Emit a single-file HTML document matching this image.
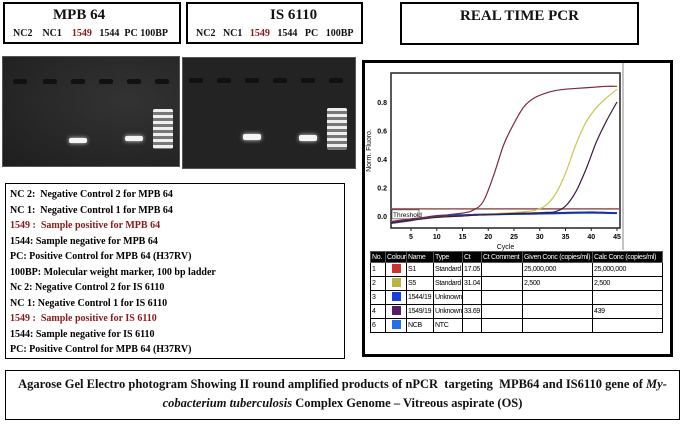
<!DOCTYPE html>
<html><head><meta charset="utf-8"><style>
body{margin:0;width:685px;height:424px;background:#fff;position:relative;overflow:hidden;font-family:"Liberation Serif",serif}
.box{position:absolute;border:2px solid #000;box-sizing:border-box;background:#fff}
.t{position:absolute;font-weight:bold;color:#111}
.red{color:#8b1a1a}
.gel{position:absolute;background:#232323;box-sizing:border-box;border:1px solid #555}
.well{position:absolute;width:14px;height:5px;background:#111;border-radius:2px}
.band{position:absolute;height:5px;background:#f4f4f4;border-radius:2px;box-shadow:0 0 4px #ddd}
.leg div{height:15.5px;font-size:10px;font-weight:bold;white-space:nowrap}
table{border-collapse:collapse;table-layout:fixed;font-family:"Liberation Sans",sans-serif;font-size:7px;letter-spacing:-0.3px;position:absolute;left:370px;top:251px;width:292px}
td,th{border:1px solid #000;padding:0 1px;height:13px;text-align:left;white-space:nowrap;overflow:hidden}
th{background:#000;color:#fff;height:10px;font-weight:normal;border-color:#555}
.sw{display:inline-block;width:9px;height:9px}
</style></head><body>
<div class="box" style="left:3px;top:2px;width:178px;height:42px">
 <div class="t" style="left:48px;top:3px;font-size:15px">MPB 64</div>
 <div class="t" style="left:8px;top:24px;font-size:10px">NC2 &nbsp;&nbsp;&nbsp;NC1 &nbsp;&nbsp;&nbsp;<span class="red">1549</span> &nbsp;&nbsp;1544 &nbsp;PC 100BP</div>
</div>
<div class="box" style="left:186px;top:2px;width:177px;height:42px">
 <div class="t" style="left:82px;top:3px;font-size:15px">IS 6110</div>
 <div class="t" style="left:8px;top:24px;font-size:10px">NC2 &nbsp;&nbsp;NC1 &nbsp;&nbsp;<span class="red">1549</span> &nbsp;&nbsp;1544 &nbsp;&nbsp;PC &nbsp;&nbsp;100BP</div>
</div>
<div class="box" style="left:400px;top:2px;width:239px;height:43px">
 <div class="t" style="left:0;width:100%;text-align:center;top:4px;font-size:15px">REAL TIME PCR</div>
</div>

<div class="gel" style="left:2px;top:56px;width:178px;height:111px;background:radial-gradient(ellipse at 70% 40%,#333,#1e1e1e)">
 <div class="well" style="left:10px;top:22px"></div><div class="well" style="left:40px;top:22px"></div><div class="well" style="left:68px;top:22px"></div><div class="well" style="left:96px;top:22px"></div><div class="well" style="left:124px;top:22px"></div><div class="well" style="left:152px;top:22px"></div>
 <div class="band" style="left:66px;top:81px;width:18px"></div>
 <div class="band" style="left:122px;top:79px;width:18px"></div>
 <div style="position:absolute;left:150px;top:52px;width:20px;height:40px;background:repeating-linear-gradient(#eee 0 3px,#777 3px 6px);border-radius:2px"></div>
</div>
<div class="gel" style="left:182px;top:57px;width:174px;height:112px">
 <div class="well" style="left:6px;top:20px"></div><div class="well" style="left:34px;top:20px"></div><div class="well" style="left:62px;top:20px"></div><div class="well" style="left:90px;top:20px"></div><div class="well" style="left:118px;top:20px"></div><div class="well" style="left:146px;top:20px"></div>
 <div class="band" style="left:60px;top:76px;width:18px;height:6px"></div>
 <div class="band" style="left:116px;top:77px;width:18px;height:6px"></div>
 <div style="position:absolute;left:144px;top:50px;width:20px;height:42px;background:repeating-linear-gradient(#eee 0 3px,#777 3px 6px);border-radius:2px"></div>
</div>

<div class="box leg" style="left:5px;top:183px;width:340px;height:176px;padding:5px 0 0 4px;border-width:1.5px">
 <div>NC 2:&nbsp; Negative Control 2 for MPB 64</div>
 <div>NC 1:&nbsp; Negative Control 1 for MPB 64</div>
 <div class="red">1549 :&nbsp; Sample positive for MPB 64</div>
 <div>1544: Sample negative for MPB 64</div>
 <div>PC: Positive Control for MPB 64 (H37RV)</div>
 <div>100BP: Molecular weight marker, 100 bp ladder</div>
 <div>Nc 2: Negative Control 2 for IS 6110</div>
 <div>NC 1: Negative Control 1 for IS 6110</div>
 <div class="red">1549 :&nbsp; Sample positive for IS 6110</div>
 <div>1544: Sample negative for IS 6110</div>
 <div>PC: Positive Control for MPB 64 (H37RV)</div>
</div>

<div class="box" style="left:362px;top:60px;width:311px;height:297px;border-width:3px"></div>
<svg style="position:absolute;left:0;top:0" width="685" height="424">
 <line x1="623" y1="63" x2="623" y2="250" stroke="#888" stroke-width="1"/>
 <g id="plot"></g>
</svg>
<table>
 <colgroup><col style="width:15px"><col style="width:21px"><col style="width:27px"><col style="width:29px"><col style="width:19px"><col style="width:41px"><col style="width:70px"><col style="width:70px"></colgroup>
 <tr><th>No.</th><th>Colour</th><th>Name</th><th>Type</th><th>Ct</th><th>Ct Comment</th><th>Given Conc (copies/ml)</th><th>Calc Conc (copies/ml)</th></tr>
 <tr><td>1</td><td style="text-align:center"><span class="sw" style="background:#d03030"></span></td><td>S1</td><td>Standard</td><td>17.05</td><td></td><td>25,000,000</td><td>25,000,000</td></tr>
 <tr><td>2</td><td style="text-align:center"><span class="sw" style="background:#b8b840"></span></td><td>S5</td><td>Standard</td><td>31.04</td><td></td><td>2,500</td><td>2,500</td></tr>
 <tr><td>3</td><td style="text-align:center"><span class="sw" style="background:#1040e0"></span></td><td>1544/19</td><td>Unknown</td><td></td><td></td><td></td><td></td></tr>
 <tr><td>4</td><td style="text-align:center"><span class="sw" style="background:#5a1a6a"></span></td><td>1549/19</td><td>Unknown</td><td>33.69</td><td></td><td></td><td>439</td></tr>
 <tr><td>6</td><td style="text-align:center"><span class="sw" style="background:#2070f0"></span></td><td>NCB</td><td>NTC</td><td></td><td></td><td></td><td></td></tr>
</table>

<div class="box" style="left:5px;top:370px;width:675px;height:50px;border-width:1.5px">
 <div class="t" style="left:0;width:100%;text-align:center;top:4px;font-size:12.5px;line-height:19px">Agarose Gel Electro photogram Showing II round amplified products of nPCR&nbsp; targeting&nbsp; MPB64 and IS6110 gene of <i>My-<br>cobacterium tuberculosis</i> Complex Genome – Vitreous aspirate (OS)</div>
</div>

<script>
const cycles=[1,5,10,15,17,19,21,23,25,27,29,31,33,35,37,39,41,43,45];
const s1=[-0.04,-0.02,0.0,0.02,0.04,0.1,0.28,0.5,0.65,0.77,0.83,0.86,0.88,0.89,0.895,0.9,0.905,0.91,0.91];
const s5=[-0.05,-0.03,-0.01,0.0,0.005,0.01,0.015,0.02,0.025,0.03,0.04,0.07,0.15,0.3,0.5,0.66,0.76,0.83,0.89];
const u1549=[-0.05,-0.03,-0.01,0.0,0.005,0.01,0.012,0.015,0.018,0.02,0.022,0.025,0.03,0.07,0.17,0.33,0.52,0.67,0.8];
const u1544=[-0.05,-0.03,0.0,0.005,0.008,0.01,0.012,0.013,0.015,0.016,0.017,0.018,0.02,0.022,0.024,0.025,0.025,0.022,0.02];
const ncb=[-0.04,-0.025,-0.005,0.003,0.006,0.008,0.01,0.012,0.013,0.014,0.015,0.016,0.017,0.018,0.02,0.02,0.02,0.02,0.02];
const threshold=0.05;
const yTicks=[0,0.2,0.4,0.6,0.8];
const xTicks=[5,10,15,20,25,30,35,40,45];
const L=391,R=620,T=73,B=228;
const xs=c=>411+(c-5)*(617-411)/40;
const ys=v=>216-v*(216-102)/0.8;
const NS='http://www.w3.org/2000/svg';
const g=document.getElementById('plot');
function mk(t,a,txt){const e=document.createElementNS(NS,t);for(const k in a)e.setAttribute(k,a[k]);if(txt!=null)e.textContent=txt;g.appendChild(e);return e;}
function smooth(pts){let d='M'+pts[0][0]+','+pts[0][1];for(let i=0;i<pts.length-1;i++){const p0=pts[i-1]||pts[i],p1=pts[i],p2=pts[i+1],p3=pts[i+2]||p2;
d+=' C'+(p1[0]+(p2[0]-p0[0])/6)+','+(p1[1]+(p2[1]-p0[1])/6)+' '+(p2[0]-(p3[0]-p1[0])/6)+','+(p2[1]-(p3[1]-p1[1])/6)+' '+p2[0]+','+p2[1];}return d;}
const frame=mk('rect',{x:L,y:T,width:R-L,height:B-T,fill:'#fff',stroke:'#222','stroke-width':1.5});


yTicks.forEach(v=>{const t=mk('text',{x:L-4,y:ys(v)+3,'text-anchor':'end','font-size':7,'font-family':'Liberation Sans','font-weight':'bold'},v.toFixed(1));

});
xTicks.forEach(c=>{mk('line',{x1:xs(c),x2:xs(c),y1:B,y2:B+3,stroke:'#222'});const t=mk('text',{x:xs(c),y:B+11,'text-anchor':'middle','font-size':7,'font-family':'Liberation Sans','font-weight':'bold'},c);

});
const xt=mk('text',{x:(L+R)/2,y:B+21,'text-anchor':'middle','font-size':7,'font-family':'Liberation Sans'},'Cycle');


const yt=mk('text',{x:0,y:0,'text-anchor':'middle','font-size':7,'font-family':'Liberation Sans',transform:`translate(${L-20},${(T+B)/2}) rotate(-90)`},'Norm. Fluoro.');


const th=mk('line',{x1:L,x2:R,y1:ys(threshold),y2:ys(threshold),stroke:'#9a5555','stroke-width':1.5});


mk('rect',{x:L+1,y:ys(threshold)+1,width:27,height:9,fill:'#fff',stroke:'#333','stroke-width':0.6});
const tl=mk('text',{x:L+2,y:ys(threshold)+8,'font-size':6.5,'font-family':'Liberation Sans'},'Threshold');


const series=[[ncb,'#3aa0d0','curve-ncb',1.5],[u1544,'#1030c0','curve-1544',2],[s5,'#c8c850','curve-s5',1.2],[u1549,'#3a1a40','curve-1549',1.2],[s1,'#7a2a3a','curve-s1',1.2]];
series.forEach(([vals,col,name,w])=>{const p=mk('path',{d:smooth(cycles.map((c,i)=>[xs(c),ys(vals[i])])),fill:'none',stroke:col,'stroke-width':w});

});
</script>
</body></html>
